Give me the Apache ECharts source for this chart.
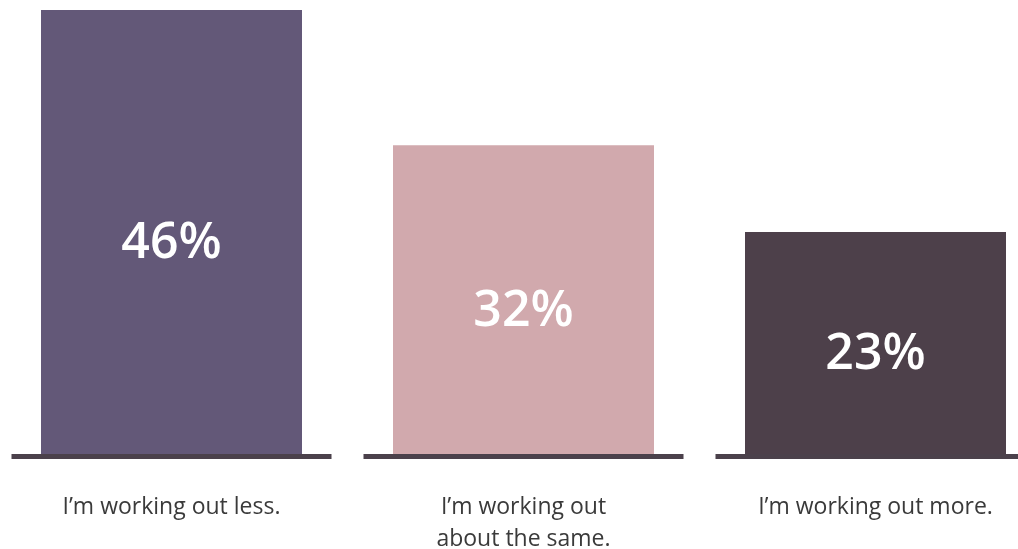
<!DOCTYPE html>
<html>
<head>
<meta charset="utf-8">
<script src="https://cdn.jsdelivr.net/npm/echarts@6/dist/echarts.min.js"></script>
<style>
  html, body { margin: 0; padding: 0; background: #fff; }
  #chart { width: 1018px; height: 549px; }
</style>
</head>
<body>
<div id="chart"></div>
<script>
const categories = ['I\u2019m working out less.', 'I\u2019m working out\nabout the same.', 'I\u2019m working out more.']
const values = [46, 32, 23]
const barColors = ['#635878', '#d1a9ad', '#4d404a']

const myChart = echarts.init(document.getElementById('chart'))

myChart.setOption({
  animation: false,
  grid: { left: -4.5, right: -33.5, top: 10, bottom: 95, outerBoundsMode: 'none', containLabel: false },
  xAxis: {
    type: 'category',
    data: categories,
    axisLine: { show: false },
    axisTick: { show: false },
    axisLabel: {
      margin: 37,
      color: '#3a3a3a',
      fontFamily: 'Open Sans',
      fontSize: 23,
      lineHeight: 32,
      interval: 0,
    },
  },
  yAxis: {
    type: 'value',
    min: 0,
    max: 46,
    show: false,
    splitLine: { show: false },
  },
  series: [
    {
      type: 'bar',
      barWidth: 261,
      data: values.map((v, i) => ({ value: v, itemStyle: { color: barColors[i] } })),
      label: {
        show: true,
        position: 'inside',
        offset: [0, 12],
        formatter: '{c}%',
        color: '#fff',
        fontFamily: 'Open Sans',
        fontWeight: 600,
        fontSize: 50,
      },
    },
    {
      type: 'custom',
      z: 5,
      data: categories.map((c, i) => [i, 0]),
      renderItem(params, api) {
        const p = api.coord([api.value(0), 0])
        return {
          type: 'rect',
          shape: { x: p[0] - 160, y: p[1], width: 320, height: 5 },
          style: { fill: '#4b414b' },
        }
      },
    },
  ],
})
</script>
</body>
</html>
